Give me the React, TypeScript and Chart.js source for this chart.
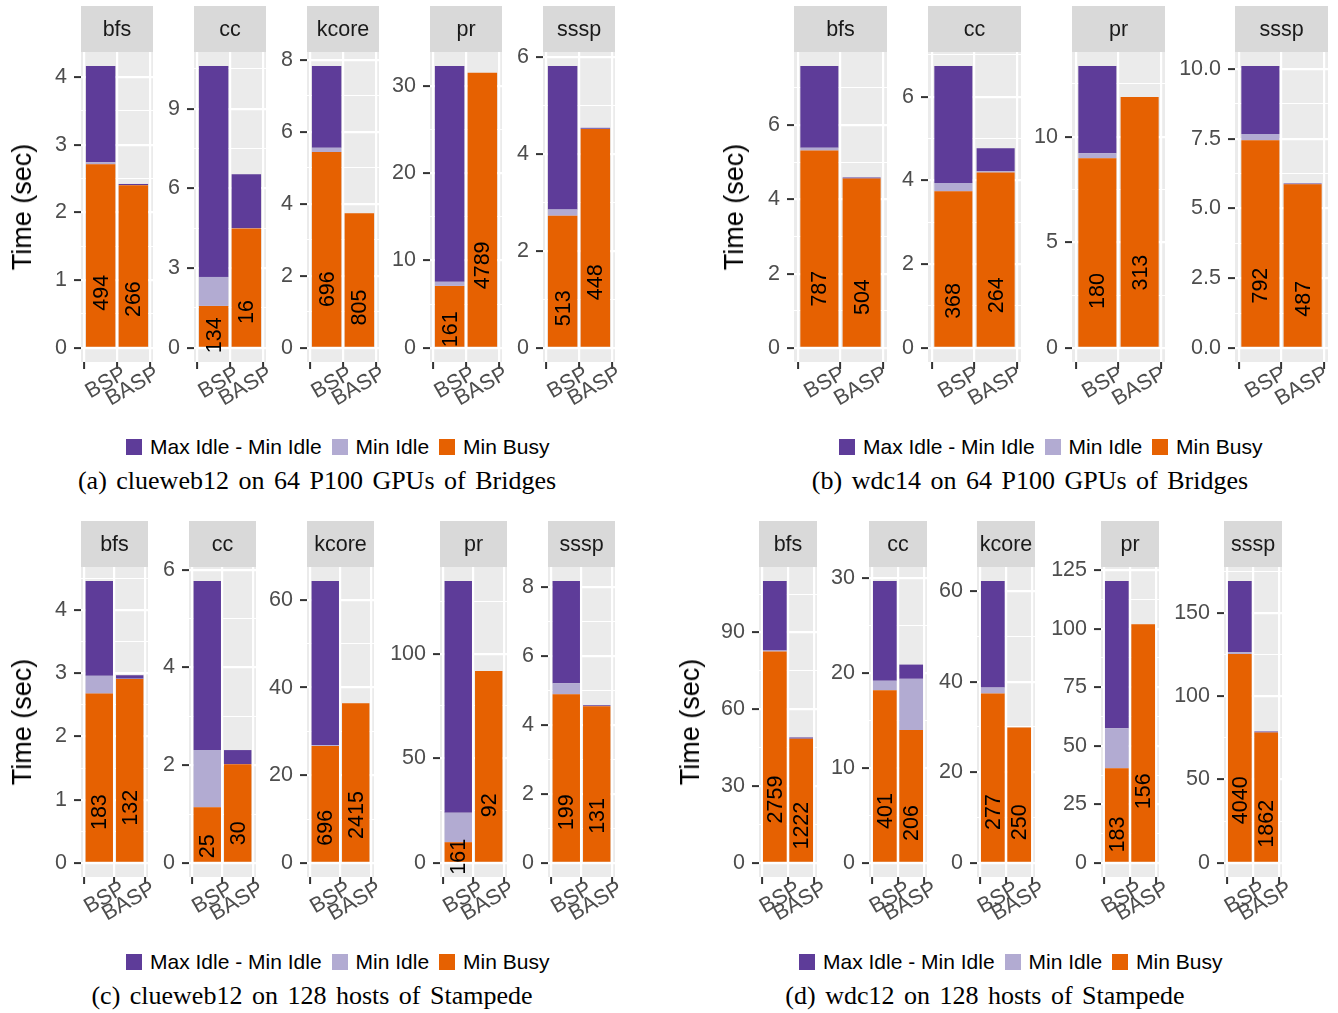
import React, { useEffect, useRef } from 'react';
import { Chart, registerables } from 'chart.js';

Chart.register(...registerables);

const FONT = '"Liberation Sans", Arial, Helvetica, sans-serif';
const SERIF = '"Liberation Serif", "Times New Roman", serif';
const C_GAP = '#5E3C99';
const C_IDLE = '#B2ABD2';
const C_BUSY = '#E66101';

const SYSTEMS = ['BSP', 'BASP'];
const SERIES = ['Max Idle - Min Idle', 'Min Idle', 'Min Busy'];
const SERIES_COLORS = [C_GAP, C_IDLE, C_BUSY];

// (a) clueweb12 on 64 P100 GPUs of Bridges
const A_APPS = ['bfs', 'cc', 'kcore', 'pr', 'sssp'];
const A_BUSY_BSP = [2.71, 1.58, 5.44, 7.1, 2.73];
const A_BUSY_BASP = [2.4, 4.49, 3.74, 31.5, 4.52];
const A_IDLE_BSP = [0.03, 1.09, 0.12, 0.46, 0.13];
const A_IDLE_BASP = [0.005, 0.01, 0, 0, 0.005];
const A_GAP_BSP = [1.42, 7.93, 2.27, 24.7, 2.96];
const A_GAP_BASP = [0.015, 2.03, 0, 0, 0.02];
const A_ROUNDS_BSP = ['494', '134', '696', '161', '513'];
const A_ROUNDS_BASP = ['266', '16', '805', '4789', '448'];
const A_TICKS = [
  ['0', '1', '2', '3', '4'],
  ['0', '3', '6', '9'],
  ['0', '2', '4', '6', '8'],
  ['0', '10', '20', '30'],
  ['0', '2', '4', '6'],
];

// (b) wdc14 on 64 P100 GPUs of Bridges
const B_APPS = ['bfs', 'cc', 'pr', 'sssp'];
const B_BUSY_BSP = [5.32, 3.74, 8.98, 7.45];
const B_BUSY_BASP = [4.56, 4.19, 11.89, 5.87];
const B_IDLE_BSP = [0.07, 0.2, 0.24, 0.22];
const B_IDLE_BASP = [0.005, 0.03, 0, 0.005];
const B_GAP_BSP = [2.2, 2.79, 4.13, 2.44];
const B_GAP_BASP = [0.025, 0.55, 0, 0.025];
const B_ROUNDS_BSP = ['787', '368', '180', '792'];
const B_ROUNDS_BASP = ['504', '264', '313', '487'];
const B_TICKS = [
  ['0', '2', '4', '6'],
  ['0', '2', '4', '6'],
  ['0', '5', '10'],
  ['0.0', '2.5', '5.0', '7.5', '10.0'],
];

// (c) clueweb12 on 128 hosts of Stampede
const C_APPS = ['bfs', 'cc', 'kcore', 'pr', 'sssp'];
const C_BUSY_BSP = [2.68, 1.14, 26.7, 9.9, 4.89];
const C_BUSY_BASP = [2.91, 2.02, 36.4, 91.7, 4.54];
const C_IDLE_BSP = [0.28, 1.17, 0.2, 14.1, 0.32];
const C_IDLE_BASP = [0.005, 0, 0, 0, 0.005];
const C_GAP_BSP = [1.5, 3.46, 37.4, 110.7, 2.96];
const C_GAP_BASP = [0.055, 0.29, 0, 0, 0.025];
const C_ROUNDS_BSP = ['183', '25', '696', '161', '199'];
const C_ROUNDS_BASP = ['132', '30', '2415', '92', '131'];
const C_TICKS = [
  ['0', '1', '2', '3', '4'],
  ['0', '2', '4', '6'],
  ['0', '20', '40', '60'],
  ['0', '50', '100'],
  ['0', '2', '4', '6', '8'],
];

// (d) wdc12 on 128 hosts of Stampede
const D_APPS = ['bfs', 'cc', 'kcore', 'pr', 'sssp'];
const D_BUSY_BSP = [82.6, 18.2, 37.4, 40.4, 125.3];
const D_BUSY_BASP = [48.5, 14.0, 29.9, 101.9, 78.2];
const D_IDLE_BSP = [0.4, 1.0, 1.3, 17.1, 1.0];
const D_IDLE_BASP = [0.05, 5.4, 0, 0, 0.05];
const D_GAP_BSP = [27.1, 10.5, 23.5, 62.8, 42.7];
const D_GAP_BASP = [0.45, 1.5, 0, 0, 0.55];
const D_ROUNDS_BSP = ['2759', '401', '277', '183', '4040'];
const D_ROUNDS_BASP = ['1222', '206', '250', '156', '1862'];
const D_TICKS = [
  ['0', '30', '60', '90'],
  ['0', '10', '20', '30'],
  ['0', '20', '40', '60'],
  ['0', '25', '50', '75', '100', '125'],
  ['0', '50', '100', '150'],
];

type Facet = {
  app: string;
  busy: number[];
  idle: number[];
  gap: number[];
  rounds: string[];
  ticks: string[];
};

function buildFacets(
  apps: string[], bB: number[], bA: number[], iB: number[], iA: number[],
  gB: number[], gA: number[], rB: string[], rA: string[], ticks: string[][]
): Facet[] {
  return apps.map((app, i) => ({
    app,
    busy: [bB[i], bA[i]],
    idle: [iB[i], iA[i]],
    gap: [gB[i], gA[i]],
    rounds: [rB[i], rA[i]],
    ticks: ticks[i],
  }));
}

const PANELS = [
  {
    facets: buildFacets(A_APPS, A_BUSY_BSP, A_BUSY_BASP, A_IDLE_BSP, A_IDLE_BASP, A_GAP_BSP, A_GAP_BASP, A_ROUNDS_BSP, A_ROUNDS_BASP, A_TICKS),
    lefts: [81, 194, 307, 430, 543], width: 72, top: 6,
    titleX: 22, legendX: 126, legendY: 447,
    caption: '(a) clueweb12 on 64 P100 GPUs of Bridges', captionX: 317, captionY: 481,
  },
  {
    facets: buildFacets(B_APPS, B_BUSY_BSP, B_BUSY_BASP, B_IDLE_BSP, B_IDLE_BASP, B_GAP_BSP, B_GAP_BASP, B_ROUNDS_BSP, B_ROUNDS_BASP, B_TICKS),
    lefts: [794, 928, 1072, 1235], width: 93, top: 6,
    titleX: 734, legendX: 839, legendY: 447,
    caption: '(b) wdc14 on 64 P100 GPUs of Bridges', captionX: 1030, captionY: 481,
  },
  {
    facets: buildFacets(C_APPS, C_BUSY_BSP, C_BUSY_BASP, C_IDLE_BSP, C_IDLE_BASP, C_GAP_BSP, C_GAP_BASP, C_ROUNDS_BSP, C_ROUNDS_BASP, C_TICKS),
    lefts: [81, 189, 307, 440, 548], width: 67, top: 521,
    titleX: 22, legendX: 126, legendY: 962,
    caption: '(c) clueweb12 on 128 hosts of Stampede', captionX: 312, captionY: 996,
  },
  {
    facets: buildFacets(D_APPS, D_BUSY_BSP, D_BUSY_BASP, D_IDLE_BSP, D_IDLE_BASP, D_GAP_BSP, D_GAP_BASP, D_ROUNDS_BSP, D_ROUNDS_BASP, D_TICKS),
    lefts: [759, 869, 977, 1101, 1224], width: 58, top: 521,
    titleX: 690, legendX: 799, legendY: 962,
    caption: '(d) wdc12 on 128 hosts of Stampede', captionX: 985, captionY: 996,
  },
];

const YW = 62;
const STRIP = 46;
const PLOT_H = 310;
const XH = 62;
const PADR = 26;
const TXT = 21.5;

function FacetChart({ f, left, top, width }: { f: Facet; left: number; top: number; width: number }) {
  const ref = useRef<HTMLCanvasElement | null>(null);
  const cw = YW + width + PADR;
  const ch = STRIP + PLOT_H + XH;

  useEffect(() => {
    const canvas = ref.current;
    if (!canvas) return;
    const majors = f.ticks.map((t) => parseFloat(t));
    const totals = [0, 1].map((i) => f.busy[i] + f.idle[i] + f.gap[i]);
    const maxT = Math.max(...totals);
    const yMin = -0.05 * maxT;
    const yMax = 1.05 * maxT;
    const step = majors[1] - majors[0];
    const minors: number[] = [];
    for (let k = -1; k < majors.length; k++) {
      const v = majors[0] + (k + 0.5) * step;
      if (v > yMin && v < yMax) minors.push(v);
    }
    const allTicks = [...majors.filter((v) => v >= yMin && v <= yMax), ...minors].sort((a, b) => a - b);
    const majorIdx = (v: number) => majors.findIndex((m) => Math.abs(m - v) < 1e-9);

    const facetPlugin = {
      id: 'facetDeco',
      beforeDraw(chart: any) {
        const { ctx, chartArea: ca } = chart;
        ctx.save();
        ctx.fillStyle = '#EBEBEB';
        ctx.fillRect(ca.left, ca.top, ca.right - ca.left, ca.bottom - ca.top);
        ctx.fillStyle = '#D9D9D9';
        ctx.fillRect(ca.left, 0, ca.right - ca.left, ca.top);
        ctx.fillStyle = '#1A1A1A';
        ctx.font = `${TXT}px ${FONT}`;
        ctx.textAlign = 'center';
        ctx.textBaseline = 'middle';
        ctx.fillText(f.app, (ca.left + ca.right) / 2, ca.top / 2 + 1);
        ctx.restore();
      },
      afterDatasetsDraw(chart: any) {
        const { ctx } = chart;
        const meta = chart.getDatasetMeta(0);
        const yScale = chart.scales.y;
        ctx.save();
        ctx.fillStyle = '#000000';
        ctx.font = `${TXT}px ${FONT}`;
        ctx.textAlign = 'center';
        ctx.textBaseline = 'middle';
        meta.data.forEach((bar: any, i: number) => {
          const y = yScale.getPixelForValue(0.3 * f.busy[i]);
          ctx.save();
          ctx.translate(bar.x, y);
          ctx.rotate(-Math.PI / 2);
          ctx.fillText(f.rounds[i], 0, 1);
          ctx.restore();
        });
        ctx.restore();
      },
    };

    const mk = (vals: number[]) => vals.map((v, i) => ({ x: i + 1, y: v }));

    const chart = new Chart(canvas, {
      type: 'bar',
      data: {
        datasets: [
          { label: 'Min Busy', data: mk(f.busy), backgroundColor: C_BUSY },
          { label: 'Min Idle', data: mk(f.idle), backgroundColor: C_IDLE },
          { label: 'Max Idle - Min Idle', data: mk(f.gap), backgroundColor: C_GAP },
        ] as any,
      },
      options: {
        animation: false,
        responsive: false,
        maintainAspectRatio: false,
        layout: { padding: { top: STRIP, right: PADR, left: 0, bottom: 0 } },
        datasets: { bar: { barPercentage: 0.9, categoryPercentage: 1, borderWidth: 0 } } as any,
        plugins: {
          legend: { display: false },
          tooltip: { enabled: false },
          title: { display: false },
        },
        scales: {
          x: {
            type: 'linear',
            min: 0.4,
            max: 2.6,
            bounds: 'data',
            stacked: true,
            offset: false,
            afterBuildTicks: (s: any) => {
              s.ticks = [{ value: 1 }, { value: 2 }];
            },
            afterFit: (s: any) => {
              s.height = XH;
            },
            grid: {
              color: '#FFFFFF',
              lineWidth: 2.2,
              tickColor: '#333333',
              tickLength: 7,
              tickWidth: 2,
              drawTicks: true,
            },
            border: { display: false },
            ticks: {
              autoSkip: false,
              minRotation: 30,
              maxRotation: 30,
              labelOffset: 24,
              padding: -8,
              color: '#4D4D4D',
              font: { family: FONT, size: TXT },
              callback: (v: any) => (v === 1 ? SYSTEMS[0] : v === 2 ? SYSTEMS[1] : ''),
            },
          },
          y: {
            type: 'linear',
            min: yMin,
            max: yMax,
            bounds: 'data',
            stacked: true,
            afterBuildTicks: (s: any) => {
              s.ticks = allTicks.map((v) => ({ value: v }));
            },
            afterFit: (s: any) => {
              s.width = YW;
            },
            grid: {
              color: '#FFFFFF',
              lineWidth: (ctx: any) => (majorIdx(ctx.tick?.value) >= 0 ? 2.2 : 1.1),
              tickColor: (ctx: any) => (majorIdx(ctx.tick?.value) >= 0 ? '#333333' : 'rgba(0,0,0,0)'),
              tickLength: 7,
              tickWidth: 2,
              drawTicks: true,
            },
            border: { display: false },
            ticks: {
              autoSkip: false,
              padding: 7,
              color: '#4D4D4D',
              font: { family: FONT, size: TXT },
              callback: (v: any) => {
                const idx = majorIdx(Number(v));
                return idx >= 0 ? f.ticks[idx] : '';
              },
            },
          },
        } as any,
      },
      plugins: [facetPlugin],
    });
    return () => chart.destroy();
  }, []);

  return (
    <canvas
      ref={ref}
      width={cw}
      height={ch}
      style={{ position: 'absolute', left: left - YW, top, width: cw, height: ch }}
    />
  );
}

export default function App() {
  return (
    <div
      style={{
        position: 'absolute',
        left: 0,
        top: 0,
        width: 1338,
        height: 1013,
        background: '#FFFFFF',
        overflow: 'hidden',
        fontFamily: FONT,
      }}
    >
      {PANELS.map((p, pi) => (
        <React.Fragment key={pi}>
          {p.facets.map((f, fi) => (
            <FacetChart key={fi} f={f} left={p.lefts[fi]} top={p.top} width={p.width} />
          ))}
          <div
            style={{
              position: 'absolute',
              left: p.titleX,
              top: p.top + STRIP + PLOT_H / 2,
              transform: 'translate(-50%, -50%) rotate(-90deg)',
              fontSize: 27,
              lineHeight: '30px',
              whiteSpace: 'nowrap',
              color: '#000',
            }}
          >
            Time (sec)
          </div>
          <div
            style={{
              position: 'absolute',
              left: p.legendX,
              top: p.legendY - 12,
              height: 24,
              display: 'flex',
              alignItems: 'center',
              fontSize: 21,
              lineHeight: '24px',
              whiteSpace: 'nowrap',
              color: '#000',
            }}
          >
            {SERIES.map((s, i) => (
              <span key={s} style={{ display: 'flex', alignItems: 'center', marginRight: 10 }}>
                <span
                  style={{
                    display: 'inline-block',
                    width: 16,
                    height: 16,
                    background: SERIES_COLORS[i],
                    marginRight: 8,
                  }}
                />
                {s}
              </span>
            ))}
          </div>
          <div
            style={{
              position: 'absolute',
              left: p.captionX,
              top: p.captionY,
              transform: 'translate(-50%, -50%)',
              fontFamily: SERIF,
              fontSize: 26,
              lineHeight: '30px',
              wordSpacing: 3,
              whiteSpace: 'nowrap',
              color: '#000',
            }}
          >
            {p.caption}
          </div>
        </React.Fragment>
      ))}
    </div>
  );
}
